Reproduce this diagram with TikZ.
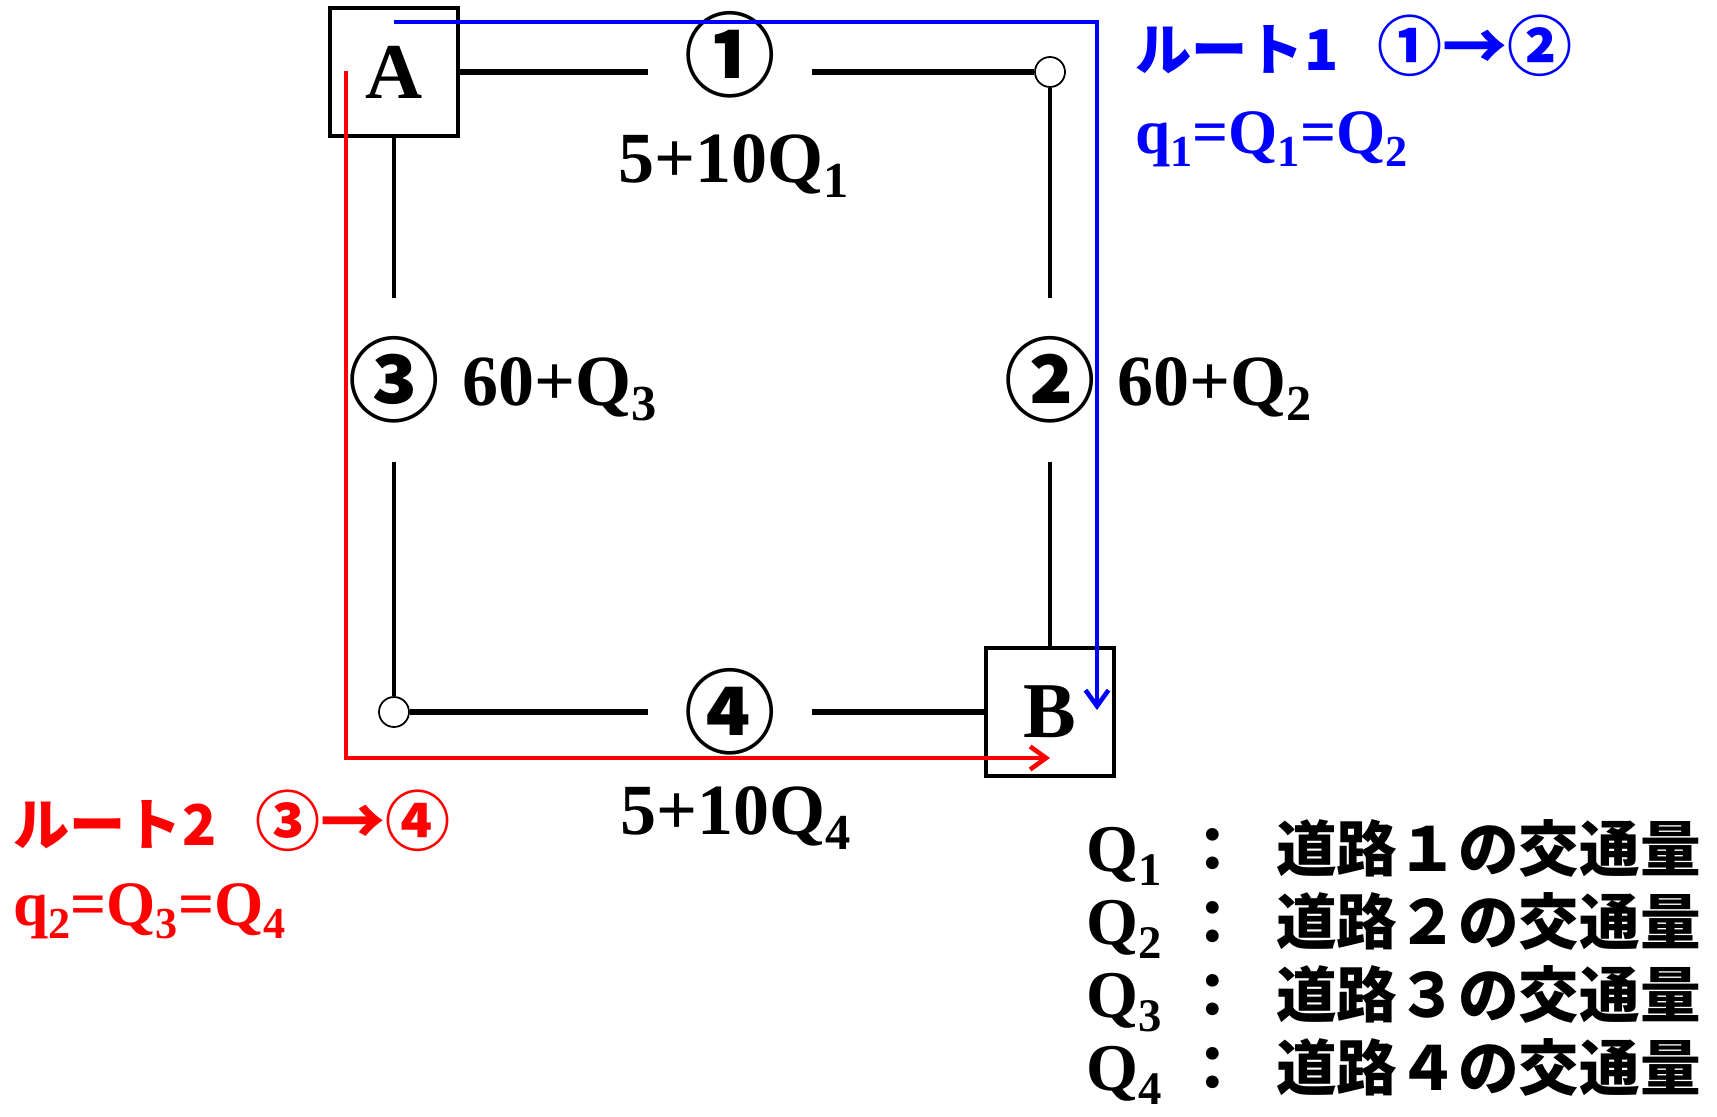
\documentclass[tikz,border=0pt]{standalone}
\usepackage{fontspec}
\setmainfont{Liberation Serif}
\newfontfamily\jpfont{Noto Sans CJK JP}
\usetikzlibrary{arrows.meta}
\definecolor{rtblue}{RGB}{0,0,255}
\definecolor{rtred}{RGB}{255,0,0}
\newcommand{\lowsub}[1]{\raisebox{-0.22em}{\scalebox{0.7}{#1}}}
\newcommand{\routenos}[1]{{\fontsize{37}{37}\selectfont #1}}
\tikzset{
  town/.style={draw, line width=2.2pt, minimum size=2.56cm, inner sep=0pt,
    font=\bfseries\fontsize{45}{45}\selectfont},
  junc/.style={circle, draw, fill=white, line width=1pt, minimum size=0.6cm, inner sep=0pt},
  roadno/.style={minimum size=3.26cm, inner sep=0pt, font=\jpfont\bfseries\fontsize{52}{52}\selectfont},
  hroad/.style={line width=3.6pt},
  vroad/.style={line width=2.8pt},
  costlbl/.style={inner sep=0pt, font=\bfseries\fontsize{41}{41}\selectfont},
  route/.style={line width=2.6pt, -{Straight Barb[length=3.2mm,width=4.6mm]}},
  routelbl/.style={anchor=west, inner sep=0pt, font=\jpfont\bfseries\fontsize{32}{32}\selectfont},
  flowlbl/.style={anchor=base west, inner sep=0pt, font=\bfseries\fontsize{36}{36}\selectfont},
  legq/.style={anchor=base west, inner sep=0pt, font=\bfseries\fontsize{38}{38}\selectfont},
  legtxt/.style={anchor=base west, inner sep=0pt, font=\jpfont\bfseries\fontsize{34.5}{34.5}\selectfont}
}

\begin{document}
\begin{tikzpicture}[x=0.02cm, y=-0.02cm]
  \useasboundingbox (0,0) rectangle (1717,1116);
  % towns and junctions
  \node[town] (A) at (394,72) {A};
  \node[town] (B) at (1050,712) {B};
  \node[junc] (j1) at (1050,72) {};
  \node[junc] (j2) at (394,712) {};
  % road numbers
  \node[roadno] (r1) at (730,55) {①};
  \node[roadno] (r2) at (1050,380) {②};
  \node[roadno] (r3) at (394,380) {③};
  \node[roadno] (r4) at (730,712) {④};
  % roads
  \draw[hroad] (A) -- (A -| r1.west);
  \draw[hroad] (A -| r1.east) -- (j1);
  \draw[vroad] (j1) -- (r2);
  \draw[vroad] (r2) -- (B);
  \draw[vroad] (A) -- (r3);
  \draw[vroad] (r3) -- (j2);
  \draw[hroad] (j2) -- (r4);
  \draw[hroad] (r4) -- (B);
  % costs
  \node[costlbl, anchor=base] (c1) at (734,182) {5+10Q\lowsub{1}};
  \node[costlbl, anchor=base west] (c2) at (1117,405) {60+Q\lowsub{2}};
  \node[costlbl, anchor=base west] (c3) at (462,405) {60+Q\lowsub{3}};
  \node[costlbl, anchor=base] (c4) at (736,834) {5+10Q\lowsub{4}};
  % routes
  \coordinate (p1s) at (394,22);
  \coordinate (p1e) at (1097,710);
  \coordinate (p2s) at (346,71);
  \coordinate (p2e) at (1050,758);
  \draw[route, rtblue] (p1s) -| (p1e);
  \draw[route, rtred] (p2s) |- (p2e);
  \node[routelbl, text=rtblue] (t1) at (1135,46) {ルート1\hspace{0.7em}\routenos{①→②}};
  \node[flowlbl, text=rtblue] (f1) at (1135,153) {q\lowsub{1}=Q\lowsub{1}=Q\lowsub{2}};
  \node[routelbl, text=rtred] (t2) at (13,821) {ルート2\hspace{0.7em}\routenos{③→④}};
  \node[flowlbl, text=rtred] (f2) at (13,925) {q\lowsub{2}=Q\lowsub{3}=Q\lowsub{4}};
  % legend
  \node[legq] (q1) at (1086,871) {Q\lowsub{1}};
  \node[legtxt, anchor=base] (k1) at (1213,871) {：};
  \node[legtxt] (d1) at (1276,871) {道路１の交通量};
  \node[legq] (q2) at (1086,944) {Q\lowsub{2}};
  \node[legtxt, anchor=base] (k2) at (1213,944) {：};
  \node[legtxt] (d2) at (1276,944) {道路２の交通量};
  \node[legq] (q3) at (1086,1017) {Q\lowsub{3}};
  \node[legtxt, anchor=base] (k3) at (1213,1017) {：};
  \node[legtxt] (d3) at (1276,1017) {道路３の交通量};
  \node[legq] (q4) at (1086,1090) {Q\lowsub{4}};
  \node[legtxt, anchor=base] (k4) at (1213,1090) {：};
  \node[legtxt] (d4) at (1276,1090) {道路４の交通量};
\end{tikzpicture}
\end{document}
